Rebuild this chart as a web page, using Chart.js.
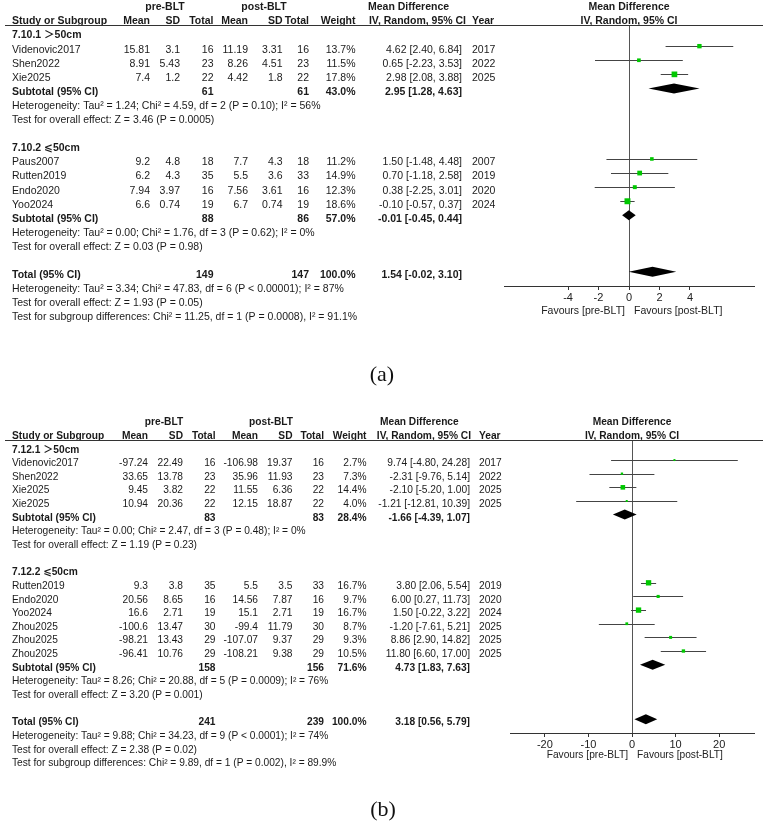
<!DOCTYPE html>
<html>
<head>
<meta charset="utf-8">
<script src="https://cdn.jsdelivr.net/npm/chart.js@4.4.0/dist/chart.umd.min.js"></script>
<style>
    body { margin: 0; background: #fff; width: 767px; height: 832px; position: relative; overflow: hidden; }
    canvas { position: absolute; left: 0; }
    #forestA { top: 0; }
    #forestB { top: 390px; }
    .lab { position: absolute; width: 60px; text-align: center; font-family: "Liberation Serif", "Times New Roman", serif; font-size: 22px; color: #111; }
</style>
</head>
<body>
<canvas id="forestA" width="767" height="390"></canvas>
<canvas id="forestB" width="767" height="442"></canvas>
<div class="lab" style="left:352px; top:361px;">(a)</div>
<div class="lab" style="left:353px; top:796px;">(b)</div>
<script>
// ---- (a) 7.10 ----
const groupsA = ['7.10.1 ＞50cm', '7.10.2 ⩽50cm'];
const studiesA = ['Videnovic2017', 'Shen2022', 'Xie2025', 'Paus2007', 'Rutten2019', 'Endo2020', 'Yoo2024'];
const subgroupOfA = [0, 0, 0, 1, 1, 1, 1];
const preMeanA = [15.81, 8.91, 7.4, 9.2, 6.2, 7.94, 6.6];
const preSdA = [3.1, 5.43, 1.2, 4.8, 4.3, 3.97, 0.74];
const preNA = [16, 23, 22, 18, 35, 16, 19];
const postMeanA = [11.19, 8.26, 4.42, 7.7, 5.5, 7.56, 6.7];
const postSdA = [3.31, 4.51, 1.8, 4.3, 3.6, 3.61, 0.74];
const postNA = [16, 23, 22, 18, 33, 16, 19];
const weightA = [13.7, 11.5, 17.8, 11.2, 14.9, 12.3, 18.6];
const mdA = [4.62, 0.65, 2.98, 1.50, 0.70, 0.38, -0.10];
const loA = [2.40, -2.23, 2.08, -1.48, -1.18, -2.25, -0.57];
const hiA = [6.84, 3.53, 3.88, 4.48, 2.58, 3.01, 0.37];
const yearA = [2017, 2022, 2025, 2007, 2019, 2020, 2024];
const subPreNA = [61, 88];
const subPostNA = [61, 86];
const subWeightA = [43.0, 57.0];
const subMdA = [2.95, -0.01];
const subLoA = [1.28, -0.45];
const subHiA = [4.63, 0.44];
const subHetA = ['Heterogeneity: Tau² = 1.24; Chi² = 4.59, df = 2 (P = 0.10); I² = 56%',
                 'Heterogeneity: Tau² = 0.00; Chi² = 1.76, df = 3 (P = 0.62); I² = 0%'];
const subTestA = ['Test for overall effect: Z = 3.46 (P = 0.0005)',
                  'Test for overall effect: Z = 0.03 (P = 0.98)'];
const totalA = [149, 147, 100.0, 1.54, -0.02, 3.10]; // preN, postN, weight, md, lo, hi
const totalNotesA = ['Heterogeneity: Tau² = 3.34; Chi² = 47.83, df = 6 (P < 0.00001); I² = 87%',
                     'Test for overall effect: Z = 1.93 (P = 0.05)',
                     'Test for subgroup differences: Chi² = 11.25, df = 1 (P = 0.0008), I² = 91.1%'];
const ticksA = [-4, -2, 0, 2, 4];

// ---- (b) 7.12 ----
const groupsB = ['7.12.1 ＞50cm', '7.12.2 ⩽50cm'];
const studiesB = ['Videnovic2017', 'Shen2022', 'Xie2025', 'Xie2025', 'Rutten2019', 'Endo2020', 'Yoo2024', 'Zhou2025', 'Zhou2025', 'Zhou2025'];
const subgroupOfB = [0, 0, 0, 0, 1, 1, 1, 1, 1, 1];
const preMeanB = [-97.24, 33.65, 9.45, 10.94, 9.3, 20.56, 16.6, -100.6, -98.21, -96.41];
const preSdB = [22.49, 13.78, 3.82, 20.36, 3.8, 8.65, 2.71, 13.47, 13.43, 10.76];
const preNB = [16, 23, 22, 22, 35, 16, 19, 30, 29, 29];
const postMeanB = [-106.98, 35.96, 11.55, 12.15, 5.5, 14.56, 15.1, -99.4, -107.07, -108.21];
const postSdB = [19.37, 11.93, 6.36, 18.87, 3.5, 7.87, 2.71, 11.79, 9.37, 9.38];
const postNB = [16, 23, 22, 22, 33, 16, 19, 30, 29, 29];
const weightB = [2.7, 7.3, 14.4, 4.0, 16.7, 9.7, 16.7, 8.7, 9.3, 10.5];
const mdB = [9.74, -2.31, -2.10, -1.21, 3.80, 6.00, 1.50, -1.20, 8.86, 11.80];
const loB = [-4.80, -9.76, -5.20, -12.81, 2.06, 0.27, -0.22, -7.61, 2.90, 6.60];
const hiB = [24.28, 5.14, 1.00, 10.39, 5.54, 11.73, 3.22, 5.21, 14.82, 17.00];
const yearB = [2017, 2022, 2025, 2025, 2019, 2020, 2024, 2025, 2025, 2025];
const subPreNB = [83, 158];
const subPostNB = [83, 156];
const subWeightB = [28.4, 71.6];
const subMdB = [-1.66, 4.73];
const subLoB = [-4.39, 1.83];
const subHiB = [1.07, 7.63];
const subHetB = ['Heterogeneity: Tau² = 0.00; Chi² = 2.47, df = 3 (P = 0.48); I² = 0%',
                 'Heterogeneity: Tau² = 8.26; Chi² = 20.88, df = 5 (P = 0.0009); I² = 76%'];
const subTestB = ['Test for overall effect: Z = 1.19 (P = 0.23)',
                  'Test for overall effect: Z = 3.20 (P = 0.001)'];
const totalB = [241, 239, 100.0, 3.18, 0.56, 5.79];
const totalNotesB = ['Heterogeneity: Tau² = 9.88; Chi² = 34.23, df = 9 (P < 0.0001); I² = 74%',
                     'Test for overall effect: Z = 2.38 (P = 0.02)',
                     'Test for subgroup differences: Chi² = 9.89, df = 1 (P = 0.002), I² = 89.9%'];
const ticksB = [-20, -10, 0, 10, 20];

const FONT = '"Liberation Sans", Arial, "Noto Sans CJK SC", "DejaVu Sans", sans-serif';
const GREEN = '#00c800';

function ci(md, lo, hi) {
    return md.toFixed(2) + ' [' + lo.toFixed(2) + ', ' + hi.toFixed(2) + ']';
}

function forestChart(id, d, lay) {
    // lay out the table rows: group header, studies, subtotal, het, test, blank ... total
    const rows = [];
    let r = 0;
    d.groups.forEach((name, g) => {
        rows.push({ kind: 'group', r: r++, g });
        d.studies.forEach((s, i) => {
            if (d.subgroupOf[i] === g) rows.push({ kind: 'study', r: r++, i });
        });
        rows.push({ kind: 'sub', r: r++, g });
        rows.push({ kind: 'note', r: r++, text: d.subHet[g] });
        rows.push({ kind: 'note', r: r++, text: d.subTest[g] });
        r++;
    });
    rows.push({ kind: 'total', r: r++ });
    d.totalNotes.forEach(t => rows.push({ kind: 'note', r: r++, text: t }));

    const studyRows = rows.filter(o => o.kind === 'study');
    const points = studyRows.map(o => ({ x: d.md[o.i], y: o.r }));
    const radii = studyRows.map(o => Math.max(2, 0.32 * d.weight[o.i]) / Math.SQRT2);

    const c = lay.cols;
    const forestPlugin = {
        id: 'forest',
        beforeDatasetsDraw(chart) {
            const ctx = chart.ctx, xs = chart.scales.x, ys = chart.scales.y, a = chart.chartArea;
            ctx.save();
            // line of no effect
            const x0 = Math.round(xs.getPixelForValue(0)) + 0.5;
            ctx.strokeStyle = '#555';
            ctx.lineWidth = 1;
            ctx.beginPath();
            ctx.moveTo(x0, a.top);
            ctx.lineTo(x0, a.bottom);
            ctx.stroke();
            // confidence intervals
            ctx.strokeStyle = '#444';
            studyRows.forEach(o => {
                const y = Math.round(ys.getPixelForValue(o.r)) + 0.5;
                ctx.beginPath();
                ctx.moveTo(xs.getPixelForValue(d.lo[o.i]), y);
                ctx.lineTo(xs.getPixelForValue(d.hi[o.i]), y);
                ctx.stroke();
            });
            // diamonds for subtotals and total
            ctx.fillStyle = '#000';
            rows.forEach(o => {
                let md, lo, hi;
                if (o.kind === 'sub') { md = d.subMd[o.g]; lo = d.subLo[o.g]; hi = d.subHi[o.g]; }
                else if (o.kind === 'total') { md = d.total[3]; lo = d.total[4]; hi = d.total[5]; }
                else return;
                const y = ys.getPixelForValue(o.r);
                ctx.beginPath();
                ctx.moveTo(xs.getPixelForValue(lo), y);
                ctx.lineTo(xs.getPixelForValue(md), y - lay.diamondH);
                ctx.lineTo(xs.getPixelForValue(hi), y);
                ctx.lineTo(xs.getPixelForValue(md), y + lay.diamondH);
                ctx.closePath();
                ctx.fill();
            });
            ctx.restore();
        },
        afterDraw(chart) {
            const ctx = chart.ctx, xs = chart.scales.x, ys = chart.scales.y, a = chart.chartArea;
            const ty = row => ys.getPixelForValue(row) + lay.textDy;
            const txt = (s, x, y, align, bold) => {
                ctx.font = (bold ? 'bold ' : '') + lay.size + 'px ' + FONT;
                ctx.textAlign = align;
                ctx.fillText(String(s), x, y);
            };
            ctx.save();
            ctx.fillStyle = '#1a1a1a';
            ctx.textBaseline = 'middle';
            const x0 = xs.getPixelForValue(0);

            // headers
            let y = ty(-2);
            txt('pre-BLT', lay.head.pre, y, 'center', true);
            txt('post-BLT', lay.head.post, y, 'center', true);
            txt('Mean Difference', lay.head.mdLeft, y, 'left', true);
            txt('Mean Difference', x0, y, 'center', true);
            y = ty(-1);
            txt('Study or Subgroup', c.name, y, 'left', true);
            txt('Mean', c.preMean, y, 'right', true);
            txt('SD', c.preSd, y, 'right', true);
            txt('Total', c.preN, y, 'right', true);
            txt('Mean', c.postMean, y, 'right', true);
            txt('SD', c.postSd, y, 'right', true);
            txt('Total', c.postN, y, 'right', true);
            txt('Weight', c.weight, y, 'right', true);
            txt('IV, Random, 95% CI', lay.head.ivRight, y, 'right', true);
            txt('Year', c.year, y, 'left', true);
            txt('IV, Random, 95% CI', x0, y, 'center', true);

            // rule under header
            ctx.strokeStyle = '#333';
            ctx.lineWidth = 1;
            ctx.beginPath();
            ctx.moveTo(5, a.top + 0.5);
            ctx.lineTo(763, a.top + 0.5);
            ctx.stroke();

            rows.forEach(o => {
                const y = ty(o.r);
                if (o.kind === 'group') {
                    txt(d.groups[o.g], c.name, y, 'left', true);
                } else if (o.kind === 'study') {
                    const i = o.i;
                    txt(d.studies[i], c.name, y, 'left');
                    txt(d.preMean[i], c.preMean, y, 'right');
                    txt(d.preSd[i], c.preSd, y, 'right');
                    txt(d.preN[i], c.preN, y, 'right');
                    txt(d.postMean[i], c.postMean, y, 'right');
                    txt(d.postSd[i], c.postSd, y, 'right');
                    txt(d.postN[i], c.postN, y, 'right');
                    txt(d.weight[i].toFixed(1) + '%', c.weight, y, 'right');
                    txt(ci(d.md[i], d.lo[i], d.hi[i]), c.md, y, 'right');
                    txt(d.year[i], c.year, y, 'left');
                } else if (o.kind === 'sub') {
                    const g = o.g;
                    txt('Subtotal (95% CI)', c.name, y, 'left', true);
                    txt(d.subPreN[g], c.preN, y, 'right', true);
                    txt(d.subPostN[g], c.postN, y, 'right', true);
                    txt(d.subWeight[g].toFixed(1) + '%', c.weight, y, 'right', true);
                    txt(ci(d.subMd[g], d.subLo[g], d.subHi[g]), c.md, y, 'right', true);
                } else if (o.kind === 'total') {
                    txt('Total (95% CI)', c.name, y, 'left', true);
                    txt(d.total[0], c.preN, y, 'right', true);
                    txt(d.total[1], c.postN, y, 'right', true);
                    txt(d.total[2].toFixed(1) + '%', c.weight, y, 'right', true);
                    txt(ci(d.total[3], d.total[4], d.total[5]), c.md, y, 'right', true);
                } else {
                    txt(o.text, c.name, y, 'left');
                }
            });

            // favours labels
            const fy = a.bottom + lay.favDy;
            ctx.fillStyle = '#222';
            txt('Favours [pre-BLT]', x0 - 4, fy, 'right');
            txt('Favours [post-BLT]', x0 + 5, fy, 'left');
            ctx.restore();
        }
    };

    return new Chart(document.getElementById(id), {
        type: 'scatter',
        data: {
            datasets: [{
                data: points,
                pointStyle: 'rect',
                pointRadius: radii,
                backgroundColor: GREEN,
                borderWidth: 0
            }]
        },
        options: {
            responsive: false,
            animation: false,
            layout: {
                padding: { left: lay.left, right: 767 - lay.right, top: lay.top, bottom: lay.H - lay.bottom - lay.axisH }
            },
            plugins: { legend: { display: false }, tooltip: { enabled: false } },
            scales: {
                x: {
                    type: 'linear',
                    min: lay.xMin,
                    max: lay.xMax,
                    afterBuildTicks: s => { s.ticks = d.ticks.map(v => ({ value: v })); },
                    afterFit: s => { s.height = lay.axisH; },
                    grid: { drawOnChartArea: false, drawTicks: true, tickLength: 4, color: '#333' },
                    border: { display: true, color: '#333' },
                    ticks: {
                        color: '#222',
                        font: { family: FONT, size: 11 },
                        padding: 1,
                        maxRotation: 0,
                        autoSkip: false,
                        callback: v => String(v)
                    }
                },
                y: { type: 'linear', display: false, reverse: true, min: lay.yMin, max: lay.yMax }
            }
        },
        plugins: [forestPlugin]
    });
}

forestChart('forestA', {
    groups: groupsA, studies: studiesA, subgroupOf: subgroupOfA,
    preMean: preMeanA, preSd: preSdA, preN: preNA,
    postMean: postMeanA, postSd: postSdA, postN: postNA,
    weight: weightA, md: mdA, lo: loA, hi: hiA, year: yearA,
    subPreN: subPreNA, subPostN: subPostNA, subWeight: subWeightA,
    subMd: subMdA, subLo: subLoA, subHi: subHiA, subHet: subHetA, subTest: subTestA,
    total: totalA, totalNotes: totalNotesA, ticks: ticksA
}, {
    H: 390, left: 504, right: 754, top: 25, bottom: 286, axisH: 16,
    xMin: -8.2, xMax: 8.2, yMin: -0.5, yMax: 18.01, textDy: 3.5, size: 10.5,
    cols: { name: 12, preMean: 150, preSd: 180, preN: 213.5, postMean: 248, postSd: 282.5, postN: 309, weight: 355.5, md: 462, year: 472 },
    head: { pre: 165, post: 264, mdLeft: 368, ivRight: 466 },
    favDy: 25, diamondH: 5
});

forestChart('forestB', {
    groups: groupsB, studies: studiesB, subgroupOf: subgroupOfB,
    preMean: preMeanB, preSd: preSdB, preN: preNB,
    postMean: postMeanB, postSd: postSdB, postN: postNB,
    weight: weightB, md: mdB, lo: loB, hi: hiB, year: yearB,
    subPreN: subPreNB, subPostN: subPostNB, subWeight: subWeightB,
    subMd: subMdB, subLo: subLoB, subHi: subHiB, subHet: subHetB, subTest: subTestB,
    total: totalB, totalNotes: totalNotesB, ticks: ticksB
}, {
    H: 442, left: 510, right: 754, top: 50, bottom: 343, axisH: 16,
    xMin: -28, xMax: 28, yMin: -0.47, yMax: 21.01, textDy: 3.3, size: 10.2,
    cols: { name: 12, preMean: 148, preSd: 183, preN: 215.5, postMean: 258, postSd: 292.5, postN: 324, weight: 366.5, md: 470, year: 479 },
    head: { pre: 164, post: 271, mdLeft: 380, ivRight: 471 },
    favDy: 22, diamondH: 5
});
</script>
</body>
</html>
